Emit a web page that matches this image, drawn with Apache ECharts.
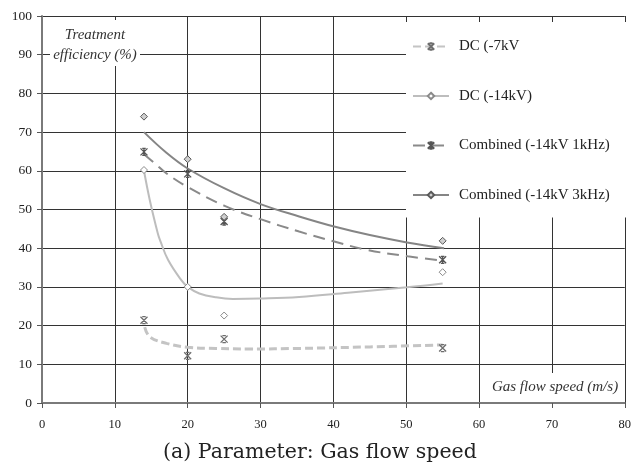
<!DOCTYPE html>
<html>
<head>
<meta charset="utf-8">
<script src="https://cdn.jsdelivr.net/npm/echarts@6/dist/echarts.min.js"></script>
<style>
html,body{margin:0;padding:0;background:#fff;}
#chart{width:634px;height:468px;}
</style>
</head>
<body>
<div id="chart"></div>
<script>
// ---- data ----
const seriesNames = ['DC (-7kV', 'DC (-14kV)', 'Combined (-14kV 1kHz)', 'Combined (-14kV 3kHz)'];
const speeds = [14, 20, 25, 55];
const dc7 = [21.4, 12.2, 16.5, 14.2];
const dc14 = [60.2, 30.0, 22.6, 33.8];
const comb1k = [64.9, 59.2, 46.9, 37.0];
const comb3k = [74.0, 63.0, 48.1, 41.9];

// trend curves
const dc7TrendX = [14.1, 14.8, 17.1, 20, 23.9, 28.5, 35.3, 45, 55];
const dc7TrendY = [19.6, 17.1, 15.4, 14.4, 14.1, 13.95, 14.1, 14.5, 15.0];
const dc14TrendX = [14, 14.8, 15.9, 16.2, 17.3, 19.1, 20, 21.6, 23.9, 26.2, 29.9, 35.3, 42, 50.1, 55];
const dc14TrendY = [60, 52.4, 43.8, 42.1, 37, 31.8, 30, 28.3, 27.3, 26.9, 27.0, 27.4, 28.5, 29.9, 30.9];
const comb1kTrendX = [14, 15.5, 17.1, 20, 25, 30, 35.3, 40, 44.5, 50.2, 55];
const comb1kTrendY = [64.3, 61.9, 59.3, 55.8, 51.0, 47.5, 44.3, 41.8, 39.6, 37.9, 36.8];
const comb3kTrendX = [14, 17, 20, 25, 30, 35.3, 40.1, 45, 50.1, 55.2];
const comb3kTrendY = [70, 64.8, 60.6, 55.5, 51.4, 48.2, 45.6, 43.4, 41.5, 40];

const xTicks = [0, 10, 20, 30, 40, 50, 60, 70, 80];
const yTicks = [0, 10, 20, 30, 40, 50, 60, 70, 80, 90, 100];
const caption = '(a) Parameter: Gas flow speed';
const yTitle = 'Treatment\nefficiency (%)';
const xTitle = 'Gas flow speed (m/s)';

// ---- build ----
function pairs(xs, ys) { return xs.map((x, i) => [x, ys[i]]); }

const starX = 'path://M2,0L6,0M2,8L6,8M0,0L8,8M8,0L0,8';
const starX2 = 'path://M2,0L6,0M2,8L6,8M0,0L8,8M8,0L0,8M4,0L4,8';

const styles = [
  { line: { color: '#c4c4c4', width: 3, type: [8, 4] }, symbol: starX, mColor: '#6e6e6e', mFill: 'none', mBorder: 1.3 },
  { line: { color: '#bdbdbd', width: 2, type: 'solid' }, symbol: 'diamond', mColor: '#8a8a8a', mFill: '#fff', mBorder: 1 },
  { line: { color: '#8a8a8a', width: 2, type: [12, 7] }, symbol: starX2, mColor: '#555', mFill: 'none', mBorder: 1.3 },
  { line: { color: '#858585', width: 2, type: 'solid' }, symbol: 'diamond', mColor: '#5a5a5a', mFill: '#cfcfcf', mBorder: 1 }
];
const pts = [dc7, dc14, comb1k, comb3k];
const trends = [pairs(dc7TrendX, dc7TrendY), pairs(dc14TrendX, dc14TrendY), pairs(comb1kTrendX, comb1kTrendY), pairs(comb3kTrendX, comb3kTrendY)];

const series = [];
seriesNames.forEach((name, i) => {
  const s = styles[i];
  series.push({
    name: name,
    type: 'line',
    data: trends[i],
    smooth: 0.4,
    showSymbol: false,
    symbol: s.symbol,
    symbolSize: 7,
    lineStyle: s.line,
    itemStyle: { color: s.mFill === 'none' ? 'rgba(0,0,0,0)' : s.mFill, borderColor: s.mColor, borderWidth: s.mBorder },
    silent: true,
    z: 2
  });
  series.push({
    name: name + ' points',
    type: 'scatter',
    data: pairs(speeds, pts[i]),
    symbol: s.symbol,
    symbolSize: 7,
    itemStyle: { color: s.mFill === 'none' ? 'rgba(0,0,0,0)' : s.mFill, borderColor: s.mColor, borderWidth: s.mBorder, opacity: 1 },
    z: 3
  });
});

const chart = echarts.init(document.getElementById('chart'), null, { renderer: 'canvas' });
chart.setOption({
  animation: false,
  backgroundColor: '#fff',
  grid: { left: 42, right: 8, top: 16, bottom: 65, containLabel: false },
  xAxis: {
    type: 'value', min: xTicks[0], max: xTicks[xTicks.length - 1], interval: 10,
    axisLine: { show: true, onZero: false, lineStyle: { color: '#7a7a7a', width: 2 } },
    axisTick: { show: true, inside: false, length: 5, lineStyle: { color: '#555' } },
    axisLabel: { margin: 15, color: '#222', fontFamily: 'Liberation Serif', fontSize: 12.5 },
    splitLine: { show: true, lineStyle: { color: '#333', width: 1 } }
  },
  yAxis: {
    type: 'value', min: yTicks[0], max: yTicks[yTicks.length - 1], interval: 10,
    axisLine: { show: true, onZero: false, lineStyle: { color: '#7a7a7a', width: 2 } },
    axisTick: { show: true, inside: false, length: 5, lineStyle: { color: '#555' } },
    axisLabel: { margin: 10, color: '#222', fontFamily: 'Liberation Serif', fontSize: 13.5 },
    splitLine: { show: true, lineStyle: { color: '#333', width: 1 } }
  },
  legend: {
    data: seriesNames,
    orient: 'vertical',
    left: 406, top: 22,
    padding: [17, 17, 15, 6],
    itemWidth: 36, itemHeight: 8, itemGap: 34.5,
    backgroundColor: '#fff',
    textStyle: { fontFamily: 'Liberation Serif', fontSize: 15, color: '#222', padding: [0, 0, 0, 5] },
    selectedMode: false
  },
  graphic: [
    { type: 'rect', z: 100, shape: { x: 50, y: 20, width: 90, height: 46 }, style: { fill: '#fff' } },
    { type: 'text', z: 101, x: 95, y: 45, style: { text: yTitle, align: 'center', verticalAlign: 'middle', lineHeight: 20, font: 'italic 15px "Liberation Serif"', fill: '#333' } },
    { type: 'rect', z: 100, shape: { x: 488, y: 373, width: 134, height: 29 }, style: { fill: '#fff' } },
    { type: 'text', z: 101, x: 555, y: 387, style: { text: xTitle, align: 'center', verticalAlign: 'middle', font: 'italic 15px "Liberation Serif"', fill: '#333' } },
    { type: 'text', z: 101, x: 320, y: 453, style: { text: caption, align: 'center', verticalAlign: 'middle', font: '20.5px "DejaVu Serif"', fill: '#222' } }
  ],
  series: series
});
</script>
</body>
</html>
